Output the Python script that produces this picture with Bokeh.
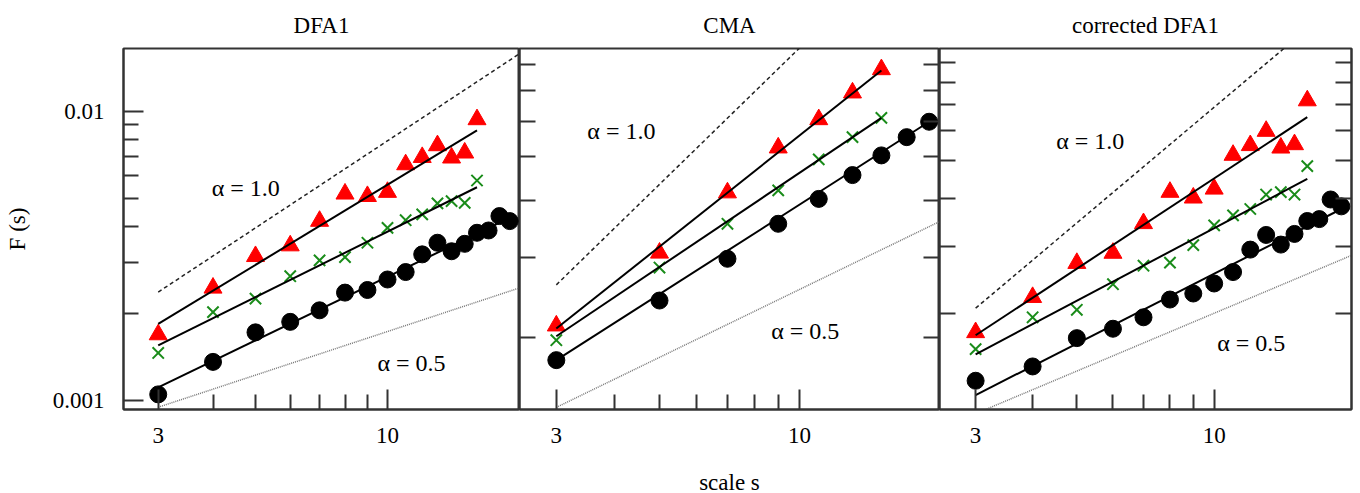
from bokeh.plotting import figure
from bokeh.models import FixedTicker, LogAxis, Label, Range1d
from bokeh.layouts import row
from bokeh.embed import file_html
from bokeh.resources import INLINE

FONT = "Liberation Serif"
FRAME = "#333333"
RED = "#ff0000"
GREEN = "#1a8c1a"

# ---------------- data ----------------
titles = ["DFA1", "CMA", "corrected DFA1"]
x_major = [3, 10]
x_minor = [4, 5, 6, 7, 8, 9]
x_labels = {3: "3", 10: "10"}
y1_major = [0.001, 0.01]
y1_minor = [0.002, 0.003, 0.004, 0.005, 0.006, 0.007, 0.008, 0.009]
y1_labels = {0.001: "0.001", 0.01: "0.01"}
y2_ticks = [0.002, 0.003, 0.004, 0.005, 0.006, 0.007, 0.008]
y3_ticks = [0.002, 0.003, 0.004, 0.005, 0.006, 0.007, 0.008, 0.009]

# DFA1
s1_tri = [3, 4, 5, 6, 7, 8, 9, 10, 11, 12, 13, 14, 15, 16]
s1_circ = [3, 4, 5, 6, 7, 8, 9, 10, 11, 12, 13, 14, 15, 16, 17, 18, 19]
F1_red = [0.00169, 0.00245, 0.00315, 0.00343, 0.00417, 0.00518, 0.00508,
          0.00525, 0.00654, 0.00693, 0.00761, 0.00690, 0.00718, 0.00936]
F1_green = [0.00146, 0.00202, 0.00225, 0.00269, 0.00305, 0.00313, 0.00351,
            0.00395, 0.00420, 0.00440, 0.00480, 0.00489, 0.00482, 0.00576]
F1_black = [0.00105, 0.00136, 0.00172, 0.00187, 0.00205, 0.00236, 0.00241,
            0.00262, 0.00278, 0.00320, 0.00351, 0.00328, 0.00348, 0.00380,
            0.00387, 0.00434, 0.00417]
fit1_s_tri = [3, 16]
fit1_s_circ = [3, 19]
fit1_red = [0.00184, 0.00858]
fit1_green = [0.00155, 0.00546]
fit1_black = [0.00111, 0.00428]
ref1_s = [3, 20]
ref1_a10 = [0.00237, 0.0158]
ref1_a05 = [0.000948, 0.00245]

# CMA
s2_tri = [3, 5, 7, 9, 11, 13, 15]
s2_circ = [3, 5, 7, 9, 11, 13, 15, 17, 19]
F2_red = [0.00212, 0.00307, 0.00417, 0.00524, 0.00605, 0.00693, 0.00780]
F2_green = [0.00197, 0.00285, 0.00356, 0.00422, 0.00494, 0.00553, 0.00610]
F2_black = [0.00178, 0.00241, 0.00298, 0.00356, 0.00404, 0.00456, 0.00504,
            0.00553, 0.00598]
fit2_s_tri = [3, 15]
fit2_s_circ = [3, 19]
fit2_red = [0.00209, 0.00776]
fit2_green = [0.00201, 0.00610]
fit2_black = [0.00178, 0.00598]
ref2_s = [3, 20]
ref2_a10 = [0.00261, 0.0174]
ref2_a05 = [0.00140, 0.00360]

# corrected DFA1
s3_tri = [3, 4, 5, 6, 7, 8, 9, 10, 11, 12, 13, 14, 15, 16]
s3_circ = [3, 4, 5, 6, 7, 8, 9, 10, 11, 12, 13, 14, 15, 16, 17, 18, 19]
F3_red = [0.00179, 0.00221, 0.00271, 0.00288, 0.00344, 0.00415, 0.00401,
          0.00423, 0.00518, 0.00549, 0.00598, 0.00541, 0.00552, 0.00718]
F3_green = [0.00162, 0.00196, 0.00205, 0.00239, 0.00267, 0.00272, 0.00302,
            0.00340, 0.00361, 0.00375, 0.00409, 0.00415, 0.00409, 0.00485]
F3_black = [0.00134, 0.00146, 0.00173, 0.00183, 0.00196, 0.00218, 0.00226,
            0.00240, 0.00257, 0.00294, 0.00321, 0.00303, 0.00323, 0.00349,
            0.00353, 0.00397, 0.00381]
fit3_s_tri = [3, 16]
fit3_s_circ = [3, 19]
fit3_red = [0.00176, 0.00650]
fit3_green = [0.00157, 0.00449]
fit3_black = [0.00123, 0.00375]
ref3_s = [3, 20]
ref3_a10 = [0.00207, 0.0138]
ref3_a05 = [0.00110, 0.00284]

x_lim = (2.5, 20)
y1_lim = (0.000931, 0.01647)
y2_lim = (0.001385, 0.008678)
y3_lim = (0.001128, 0.009811)


def style_xaxis(p, label=None):
    ax = p.xaxis[0]
    ax.ticker = FixedTicker(ticks=x_major, minor_ticks=x_minor)
    ax.major_label_overrides = x_labels
    ax.major_tick_in = 20
    ax.major_tick_out = 0
    ax.minor_tick_in = 15
    ax.minor_tick_out = 0
    ax.major_tick_line_width = 2
    ax.minor_tick_line_width = 2
    ax.major_tick_line_color = FRAME
    ax.minor_tick_line_color = FRAME
    ax.axis_line_color = FRAME
    ax.axis_line_width = 2
    ax.major_label_standoff = 18
    ax.major_label_text_font = FONT
    ax.major_label_text_font_size = "23px"
    ax.major_label_text_color = "black"
    if label:
        ax.axis_label = label
        ax.axis_label_text_font = FONT
        ax.axis_label_text_font_size = "23px"
        ax.axis_label_text_font_style = "normal"
        ax.axis_label_text_color = "black"
        ax.axis_label_standoff = 24


def blank_yaxis(ax, ticks):
    ax.ticker = FixedTicker(ticks=ticks, minor_ticks=[])
    ax.major_tick_in = 16
    ax.major_tick_out = 0
    ax.minor_tick_in = 0
    ax.minor_tick_out = 0
    ax.major_tick_line_width = 2
    ax.major_tick_line_color = FRAME
    ax.axis_line_color = FRAME
    ax.axis_line_width = 2
    ax.major_label_text_color = None
    ax.major_label_text_alpha = 0
    ax.major_label_text_font_size = "1px"
    ax.major_label_standoff = 0


def make_panel(title, fw, bl, br, ylim):
    p = figure(x_axis_type="log", y_axis_type="log",
               x_range=Range1d(*x_lim), y_range=Range1d(*ylim),
               frame_width=fw, frame_height=361,
               min_border_left=bl, min_border_right=br,
               min_border_top=47, min_border_bottom=85,
               output_backend="svg", toolbar_location=None, title=title)
    p.grid.visible = False
    p.outline_line_color = FRAME
    p.outline_line_width = 2
    p.background_fill_color = "white"
    p.border_fill_color = "white"
    p.title.text_font = FONT
    p.title.text_font_size = "23px"
    p.title.text_font_style = "normal"
    p.title.text_color = "black"
    p.title.align = "center"
    p.title.standoff = 21
    return p


def draw(p, s_tri, s_circ, red, green, black, fs_tri, fs_circ, fr, fg, fb,
         rs, r10, r05):
    p.line(rs, r10, line_color="#222222", line_width=1.5, line_dash="4 3")
    p.line(rs, r05, line_color="#777777", line_width=1.5, line_dash="1 1")
    p.scatter(s_circ, black, marker="circle", size=17, color="black")
    p.scatter(s_tri, red, marker="triangle", size=18, color=RED)
    p.scatter(s_tri, green, marker="x", size=16, line_color=GREEN, line_width=2)
    p.line(fs_tri, fr, line_color="black", line_width=2)
    p.line(fs_tri, fg, line_color="black", line_width=2)
    p.line(fs_circ, fb, line_color="black", line_width=2)


def alpha_label(p, x, y, text):
    p.add_layout(Label(x=x, y=y, text=text, text_font=FONT,
                       text_font_size="24px", text_align="center",
                       text_baseline="middle", text_color="black"))


# Panel 1
p1 = make_panel(titles[0], 396, 123, 0, y1_lim)
p1.title.offset = -58
draw(p1, s1_tri, s1_circ, F1_red, F1_green, F1_black, fit1_s_tri, fit1_s_circ,
     fit1_red, fit1_green, fit1_black, ref1_s, ref1_a10, ref1_a05)
style_xaxis(p1)
ya = p1.yaxis[0]
ya.ticker = FixedTicker(ticks=y1_major, minor_ticks=y1_minor)
ya.major_label_overrides = y1_labels
ya.major_tick_in = 20
ya.major_tick_out = 0
ya.minor_tick_in = 15
ya.minor_tick_out = 0
ya.major_tick_line_width = 2
ya.minor_tick_line_width = 2
ya.major_tick_line_color = FRAME
ya.minor_tick_line_color = FRAME
ya.axis_line_color = FRAME
ya.axis_line_width = 2
ya.major_label_standoff = 19
ya.major_label_text_font = FONT
ya.major_label_text_font_size = "23px"
ya.major_label_text_color = "black"
ya.axis_label = "F (s)"
ya.axis_label_text_font = FONT
ya.axis_label_text_font_size = "23px"
ya.axis_label_text_font_style = "normal"
ya.axis_label_text_color = "black"
ya.axis_label_standoff = 20
alpha_label(p1, 4.75, 0.00542, "α = 1.0")
alpha_label(p1, 11.34, 0.001349, "α = 0.5")

# Panel 2
p2 = make_panel(titles[1], 420, 0, 0, y2_lim)
draw(p2, s2_tri, s2_circ, F2_red, F2_green, F2_black, fit2_s_tri, fit2_s_circ,
     fit2_red, fit2_green, fit2_black, ref2_s, ref2_a10, ref2_a05)
style_xaxis(p2, "scale s")
blank_yaxis(p2.yaxis[0], y2_ticks)
r2 = LogAxis()
blank_yaxis(r2, y2_ticks)
p2.add_layout(r2, "right")
alpha_label(p2, 4.14, 0.0057, "α = 1.0")
alpha_label(p2, 10.29, 0.00206, "α = 0.5")

# Panel 3
p3 = make_panel(titles[2], 412, 0, 9, y3_lim)
draw(p3, s3_tri, s3_circ, F3_red, F3_green, F3_black, fit3_s_tri, fit3_s_circ,
     fit3_red, fit3_green, fit3_black, ref3_s, ref3_a10, ref3_a05)
style_xaxis(p3)
blank_yaxis(p3.yaxis[0], y3_ticks)
r3 = LogAxis()
blank_yaxis(r3, y3_ticks)
p3.add_layout(r3, "right")
alpha_label(p3, 5.35, 0.00563, "α = 1.0")
alpha_label(p3, 12.06, 0.00168, "α = 0.5")

layout = row(p1, p2, p3)
open("out.html", "w").write(file_html(layout, INLINE))
